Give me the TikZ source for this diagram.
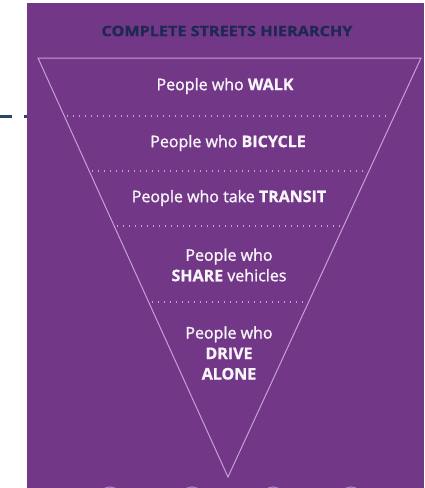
\documentclass[tikz,border=0pt]{standalone}
\usepackage{graphicx}
\usepackage{fontspec}
\setmainfont{Open Sans}[FakeBold=1.4,BoldFont={Open Sans Bold},BoldFeatures={FakeBold=0.8}]
\newfontfamily\ttlfont{Open Sans Bold}[FakeBold=1.0]
\usetikzlibrary{calc}
\begin{document}
\begin{tikzpicture}[x=1pt,y=-1pt,
  bgpurple/.style={fill=purp,draw=none},
  edge/.style={draw=lav,line width=1pt},
  sepline/.style={draw=lav,line width=1.1pt,dash pattern=on 1pt off 5pt},
  lbl/.style={text=txtw,font=\fontsize{16}{20.5}\selectfont,align=center,inner sep=0pt},
  ttl/.style={text=navy,font=\ttlfont\fontsize{14.2}{15}\selectfont,inner sep=0pt},
  bump/.style={draw=lav!70!purp,line width=1.2pt}]
\definecolor{purp}{RGB}{115,55,135}
\definecolor{lav}{RGB}{196,160,214}
\definecolor{navy}{RGB}{30,40,82}
\definecolor{txtw}{RGB}{248,244,250}
\definecolor{dashblue}{RGB}{40,72,106}
\useasboundingbox (0,0) rectangle (424,488);
\fill[white] (0,0) rectangle (424,488);
\coordinate (d0) at (0,116.5);
\coordinate (d1) at (27,116.5);
\draw[draw=dashblue,line width=3pt,dash pattern=on 12pt off 12pt] (d0) -- (d1);
\path[bgpurple] (27,3) rectangle (424,488);
% bottom bumps
\begin{scope}
\clip (27,3) rectangle (424,488);
\foreach \cx in {110,192,273,351}{\draw[bump] (\cx,498) circle (11);}
\end{scope}
% triangle
\coordinate (tl) at (38,58);
\coordinate (tr) at (421,58);
\coordinate (ap) at (228,477);
\draw[edge] (tl) -- (tr) -- (ap) -- cycle;
% separators
\foreach \yy/\nm in {116/a,171/b,226/c,302/d}{
  \pgfmathsetmacro{\t}{(\yy-58)/419}
  \coordinate (l\nm) at ($(tl)!\t!(ap)+(3,0)$);
  \coordinate (r\nm) at ($(tr)!\t!(ap)+(-3,0)$);
  \draw[sepline] (l\nm) -- (r\nm);
}
% title
\node[ttl] (title) at (227,31) {\scalebox{1.14}[1]{COMPLETE STREETS HIERARCHY}};
% labels
\node[lbl] (walk) at (225,86) {People who \textbf{WALK}};
\node[lbl] (bike) at (228,143) {People who \textbf{BICYCLE}};
\node[lbl] (transit) at (229,198) {People who take \textbf{TRANSIT}};
\node[lbl] (share) at (229,265) {People who\\\textbf{SHARE} vehicles};
\node[lbl] (drive) at (229,353) {People who\\\textbf{DRIVE}\\\textbf{ALONE}};
\end{tikzpicture}
\end{document}
